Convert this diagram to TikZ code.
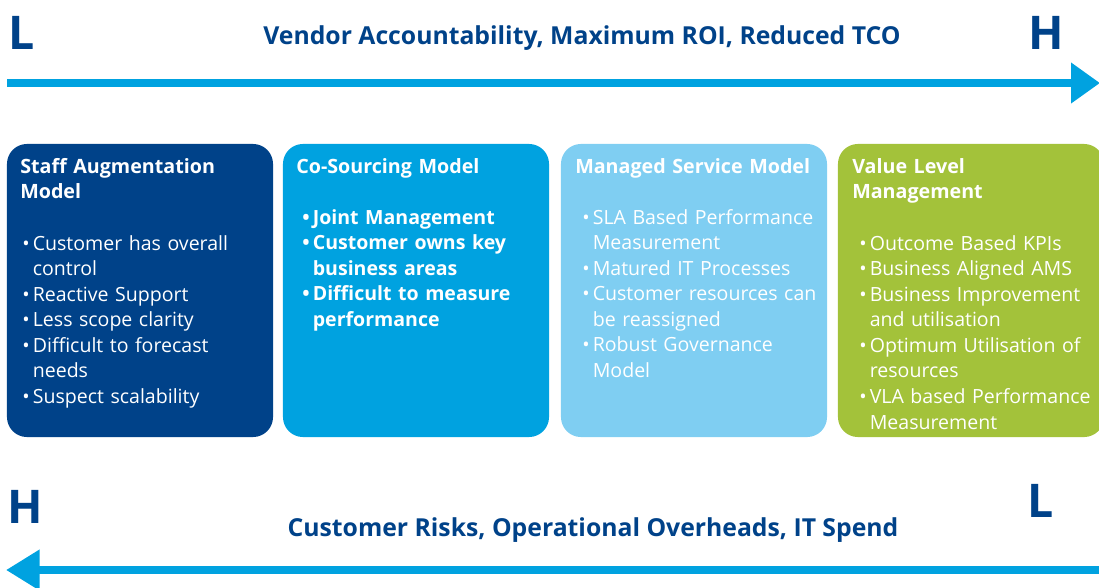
\documentclass[tikz,border=0pt]{standalone}
\usepackage{fontspec}
\setmainfont{Open Sans}
\usetikzlibrary{arrows.meta}

\definecolor{navy}{RGB}{0,66,137}
\definecolor{sky}{RGB}{0,162,224}
\definecolor{pale}{RGB}{127,206,242}
\definecolor{lime}{RGB}{163,194,58}

\newlength\bulw
\setlength\bulw{7.5pt}
\newcommand{\itm}[1]{\hangindent=\bulw\hangafter=1\noindent\hbox to\bulw{\textbullet\hfil}#1\par}

\tikzset{
    mbox/.style={draw=none, rectangle, rounded corners=0.5cm, minimum width=6.65cm, minimum height=7.325cm, inner sep=0pt},
    hd/.style={anchor=base west, inner sep=0pt, text=white, text width=6.4cm, align=left, font=\fontsize{14}{18.2}\selectfont\bfseries},
    ls/.style={anchor=base west, inner sep=0pt, text=white, text width=6.4cm, align=left, font=\fontsize{13.9}{18.2}\selectfont},
    big/.style={text=navy, inner sep=0pt, font=\fontsize{33}{33}\selectfont\bfseries},
    ttl/.style={text=navy, inner sep=0pt, font=\fontsize{17.6}{20}\selectfont\bfseries},
    flow/.style={line width=5.7pt, draw=sky}
}

\begin{document}
\begin{tikzpicture}[x=0.025cm, y=-0.025cm]
        \useasboundingbox (0,0) rectangle (1099,587);

        % top scale
        \node[big] (tl) at (22,33) {L};
        \node[big] (th) at (1046,33) {H};
        \node[ttl] (tt) at (582,38) {Vendor Accountability, Maximum ROI, Reduced TCO};
        \coordinate (vs) at (7,83);
        \coordinate (ve) at (1100,83);
        \draw[flow, -{Triangle[length=20.6pt, width=27.7pt]}] (vs) -- (ve);

        % the four models
        \foreach \i/\x/\c in {1/7/navy, 2/283/sky, 3/561/pale, 4/838/lime}
            {
                \node[mbox, fill=\c] (b\i) at (\x+133,290.5) {};
            }

        \node[hd] (h1) at (20,173) {Staff Augmentation\\Model};
        \node[ls] (l1) at (22,250) {%
            \itm{Customer has overall\newline control}
            \itm{Reactive Support}
            \itm{Less scope clarity}
            \itm{Difficult to forecast\newline needs}
            \itm{Suspect scalability}};

        \node[hd] (h2) at (296,173) {Co-Sourcing Model};
        \node[ls, font=\fontsize{13.9}{18.2}\selectfont\bfseries] (l2) at (302,224) {%
            \itm{Joint Management}
            \itm{Customer owns key\newline business areas}
            \itm{Difficult to measure\newline performance}};

        \node[hd] (h3) at (575,173) {Managed Service Model};
        \node[ls] (l3) at (582,224) {%
            \itm{SLA Based Performance\newline Measurement}
            \itm{Matured IT Processes}
            \itm{Customer resources can\newline be reassigned}
            \itm{Robust Governance\newline Model}};

        \node[hd] (h4) at (852,173) {Value Level\\Management};
        \node[ls] (l4) at (859,250) {%
            \itm{Outcome Based KPIs}
            \itm{Business Aligned AMS}
            \itm{Business Improvement\newline and utilisation}
            \itm{Optimum Utilisation of\newline resources}
            \itm{VLA based Performance\newline Measurement}};

        % bottom scale
        \node[big] (bh) at (25,507) {H};
        \node[big] (bl) at (1041,501) {L};
        \node[ttl] (bt) at (593,530) {Customer Risks, Operational Overheads, IT Spend};
        \coordinate (cs) at (1099,570);
        \coordinate (ce) at (6,570);
        \draw[flow, -{Triangle[length=24pt, width=27.7pt]}] (cs) -- (ce);
    \end{tikzpicture}
\end{document}
